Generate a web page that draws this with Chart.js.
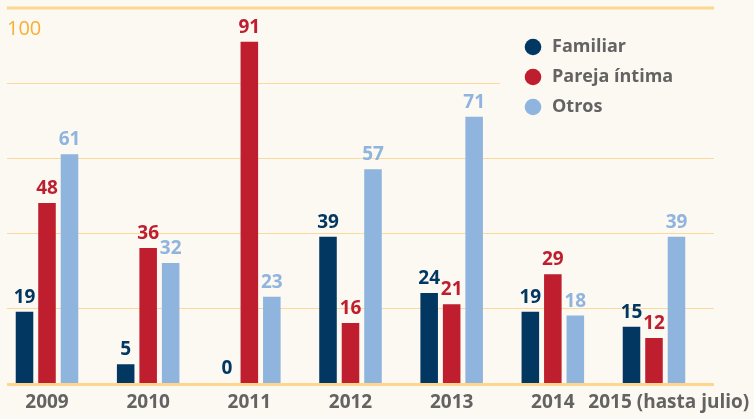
<!DOCTYPE html>
<html lang="es">
<head>
<meta charset="UTF-8">
<title>Víctimas por año</title>
<script src="https://cdn.jsdelivr.net/npm/chart.js"></script>
<style>
  html, body { margin: 0; padding: 0; background: #fcf8f2; }
  .wrap { width: 754px; height: 419px; position: relative; }
</style>
</head>
<body>
<div class="wrap"><canvas id="chart" width="754" height="419"></canvas></div>
<script>
const years = ["2009", "2010", "2011", "2012", "2013", "2014", "2015 (hasta julio)"];
const familiar = [19, 5, 0, 39, 24, 19, 15];
const pareja = [48, 36, 91, 16, 21, 29, 12];
const otros = [61, 32, 23, 57, 71, 18, 39];
const gridValues = [20, 40, 60, 80];
const topValue = 100;

const FONT = "'Open Sans', 'Noto Sans', sans-serif";
const BG = "#fcf8f2";
const GREY = "#636363";

// gridlines, legend and value labels drawn on top of the chart area
const decor = {
  id: "decor",
  beforeDatasetsDraw(chart) {
    const ctx = chart.ctx;
    const y = chart.scales.y;
    ctx.save();
    ctx.strokeStyle = "#fbd99c";
    ctx.lineWidth = 1;
    gridValues.forEach(v => {
      const py = Math.round(y.getPixelForValue(v)) + 0.5;
      ctx.beginPath();
      ctx.moveTo(7, py);
      ctx.lineTo(714, py);
      ctx.stroke();
    });
    ctx.strokeStyle = "#fcd78d";
    ctx.lineWidth = 3;
    [topValue, 0].forEach(v => {
      const py = y.getPixelForValue(v) + (v === 0 ? 1.5 : 0);
      ctx.beginPath();
      ctx.moveTo(7, py);
      ctx.lineTo(714, py);
      ctx.stroke();
    });
    // "100" label
    ctx.fillStyle = "#f6b133";
    ctx.font = "20px " + FONT;
    ctx.textAlign = "left";
    ctx.textBaseline = "alphabetic";
    ctx.fillText(String(topValue), 7, y.getPixelForValue(topValue) + 27);
    // legend panel
    ctx.fillStyle = BG;
    ctx.fillRect(500, 22, 220, 100);
    chart.data.datasets.forEach((ds, i) => {
      const cy = 47 + i * 30;
      ctx.fillStyle = ds.backgroundColor;
      ctx.beginPath();
      ctx.arc(533, cy, 8.3, 0, Math.PI * 2);
      ctx.fill();
      ctx.fillStyle = GREY;
      ctx.font = "bold 18px " + FONT;
      ctx.textBaseline = "middle";
      ctx.fillText(ds.label, 552, cy);
    });
    ctx.restore();
  },
  afterDatasetsDraw(chart) {
    const ctx = chart.ctx;
    ctx.save();
    ctx.font = "bold 19px " + FONT;
    ctx.textAlign = "center";
    ctx.textBaseline = "alphabetic";
    chart.data.datasets.forEach((ds, i) => {
      ctx.fillStyle = ds.labelColor;
      chart.getDatasetMeta(i).data.forEach((bar, j) => {
        ctx.fillText(String(ds.data[j]), bar.x, bar.y - 9);
      });
    });
    ctx.restore();
  }
};

new Chart(document.getElementById("chart"), {
  type: "bar",
  data: {
    labels: years,
    datasets: [
      { label: "Familiar", data: familiar, backgroundColor: "#023762", labelColor: "#023762" },
      { label: "Pareja íntima", data: pareja, backgroundColor: "#be1e2e", labelColor: "#be1e2e" },
      { label: "Otros", data: otros, backgroundColor: "#8fb4de", labelColor: "#8fb4de" }
    ]
  },
  options: {
    responsive: false,
    animation: false,
    layout: { padding: { left: 47, right: 100, top: 8, bottom: 0 } },
    datasets: { bar: { categoryPercentage: 0.667, barPercentage: 0.78, clip: false } },
    plugins: { legend: { display: false }, tooltip: { enabled: false } },
    scales: {
      x: {
        offset: false,
        grid: { display: false, drawTicks: false },
        border: { display: false },
        afterFit(scale) {
          scale.height = 36;
          scale.paddingLeft = 0;
          scale.paddingRight = 0;
        },
        ticks: {
          color: GREY,
          padding: 8,
          maxRotation: 0,
          autoSkip: false,
          font: { family: FONT, size: 19, weight: "bold" },
          // the last label sits a little to the right, as in the original
          callback: (v, i) => (i === years.length - 1 ? "      " : "") + years[i]
        }
      },
      y: {
        display: false,
        min: 0,
        max: topValue
      }
    }
  },
  plugins: [decor]
});
</script>
</body>
</html>
